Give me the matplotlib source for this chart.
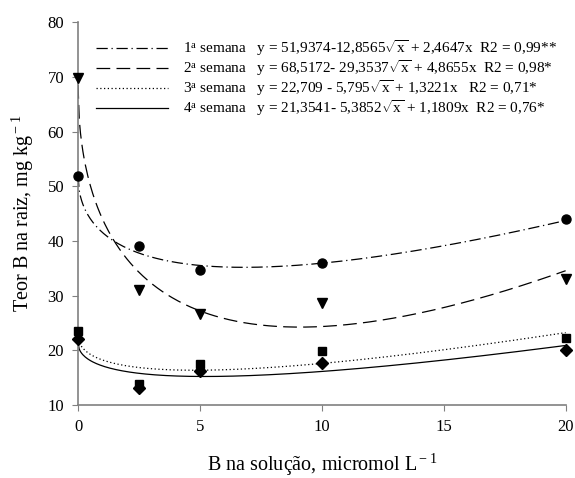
import numpy as np
import matplotlib
matplotlib.use("Agg")
import matplotlib.pyplot as plt

plt.rcParams['font.family'] = ['Liberation Serif', 'DejaVu Serif']
plt.rcParams['mathtext.fontset'] = 'custom'
plt.rcParams['mathtext.rm'] = 'Liberation Serif'
plt.rcParams['mathtext.it'] = 'Liberation Serif'

# doses de B (micromol/L)
doses = [0, 2.5, 5, 10, 20]

# valores observados por semana
sem1 = [51.8, 39.0, 34.7, 36.0, 44.0]
sem2 = [69.8, 31.0, 26.6, 28.6, 33.0]
sem3 = [23.6, 13.8, 17.5, 19.8, 22.3]
sem4 = [22.0, 13.2, 16.2, 17.7, 20.0]

# coeficientes das equacoes y = a - b*sqrt(x) + c*x
coef1 = [51.9374, 12.8565, 2.4647]
coef2 = [68.5172, 29.3537, 4.8655]
coef3 = [22.709, 5.795, 1.3221]
coef4 = [21.3541, 5.3852, 1.1809]

labels = [
    r"1$^{\rm a}$ semana   y = 51,9374-12,8565$\sqrt{\rm x}$ + 2,4647x  R2 = 0,99**",
    r"2$^{\rm a}$ semana   y = 68,5172- 29,3537$\sqrt{\rm x}$ + 4,8655x  R2 = 0,98*",
    r"3$^{\rm a}$ semana   y = 22,709 - 5,795$\sqrt{\rm x}$ + 1,3221x   R2 = 0,71*",
    r"4$^{\rm a}$ semana   y = 21,3541- 5,3852$\sqrt{\rm x}$ + 1,1809x  R2 = 0,76*",
]

fig = plt.figure(figsize=(5.75, 4.78), dpi=100)
ax = fig.add_axes([0.1357, 0.1527, 0.848, 0.801])

xs = np.linspace(0, 20, 400)
estilos = [(0, (9, 3, 1, 3)), (0, (11, 5)), (0, (1, 2)), '-']
marcas = ['o', 'v', 's', 'D']
tamanhos = [6.5, 7, 6, 6]
dados = [sem1, sem2, sem3, sem4]
coefs = [coef1, coef2, coef3, coef4]

handles = []
for d, c, ls, m, ms in zip(dados, coefs, estilos, marcas, tamanhos):
    yfit = c[0] - c[1] * np.sqrt(xs) + c[2] * xs
    h, = ax.plot(xs, yfit, color='black', linestyle=ls, linewidth=0.9)
    handles.append(h)
    ax.plot(doses, d, linestyle='none', marker=m, color='black',
            markersize=ms, clip_on=False, zorder=5)

ax.legend(handles, labels, loc='upper left', bbox_to_anchor=(0.012, 0.99),
          frameon=False, fontsize=11, handlelength=4.7, handletextpad=1.0,
          labelspacing=0.0, borderpad=0.3)

ax.set_xlim(0, 20)
ax.set_ylim(10, 80)
ax.set_xticks([0, 5, 10, 15, 20])
ax.set_yticks(range(10, 81, 10))
ax.spines['top'].set_visible(False)
ax.spines['right'].set_visible(False)
for s in ['left', 'bottom']:
    ax.spines[s].set_color('#808080')
    ax.spines[s].set_linewidth(1.2)
ax.tick_params(direction='out', length=4, color='#808080', labelsize=12, pad=6)

ax.set_xlabel(r"B na solução, micromol L$^{\rm -1}$", fontsize=14.5, labelpad=12)
ax.set_ylabel(r"Teor B na raiz, mg kg$^{\rm -1}$", fontsize=14.5, labelpad=8)

fig.savefig("out.png", dpi=100)
